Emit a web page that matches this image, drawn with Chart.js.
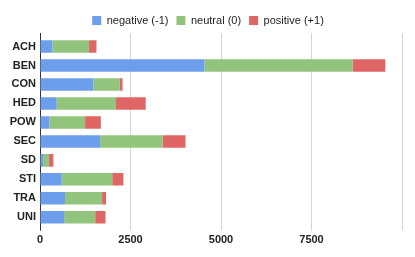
<!DOCTYPE html>
<html><head><meta charset="utf-8">
<script src="https://cdn.jsdelivr.net/npm/chart.js@4"></script>
<style>html,body{margin:0;padding:0;background:#fff}#w{width:415px;height:257px}</style>
</head><body><div id="w"><canvas id="c"></canvas></div>
<script>
const categories = ["ACH","BEN","CON","HED","POW","SEC","SD","STI","TRA","UNI"];
const negative = [340, 4540, 1475, 460, 260, 1660, 85, 600, 690, 665];
const neutral = [1015, 4095, 730, 1640, 985, 1725, 165, 1395, 1025, 860];
const positive = [205, 905, 75, 820, 435, 635, 120, 310, 110, 285];
const seriesNames = ["negative (-1)", "neutral (0)", "positive (+1)"];
const xTicks = [0, 2500, 5000, 7500, 10000];

const legendFix = {
  id: 'legendFix',
  beforeInit(chart) {
    const orig = chart.legend.fit;
    chart.legend.fit = function () { orig.call(this); this.height = 33; };
  },
  afterLayout(chart) {
    const L = chart.legend;
    L.left += 7; L.right += 7; L.top += 7;
  }
};
const F = "Arial, 'Liberation Sans', sans-serif";
new Chart(document.getElementById('c'), {
  type: 'bar',
  data: {
    labels: categories,
    datasets: [
      {label: seriesNames[0], data: negative, backgroundColor: '#6d9eeb', borderWidth: 0},
      {label: seriesNames[1], data: neutral, backgroundColor: '#93c47d', borderWidth: 0},
      {label: seriesNames[2], data: positive, backgroundColor: '#e06666', borderWidth: 0}
    ]
  },
  options: {
    indexAxis: 'y',
    responsive: true, maintainAspectRatio: false, animation: false,
    layout: {padding: {left: 0, right: 13, top: 0, bottom: 7}},
    datasets: {bar: {categoryPercentage: 1, barPercentage: 0.66}},
    plugins: {
      tooltip: {enabled: false},
      legend: {
        position: 'top', align: 'center',
        labels: {boxWidth: 9, boxHeight: 9, padding: 8, color: '#222', font: {family: F, size: 11}}
      }
    },
    scales: {
      x: {
        type: 'linear', stacked: true, min: 0, max: 10000,
        afterBuildTicks(s) { s.ticks = xTicks.map(v => ({value: v})); },
        ticks: {color: '#222', padding: 3, font: {family: F, size: 11, weight: 'bold'},
          callback: v => (v === 10000 ? '' : String(v))},
        grid: {color: c => (c.tick && c.tick.value === 0 ? '#333' : '#d6d6d6'), tickLength: 4, lineWidth: 1},
        border: {display: false}
      },
      x2: {
        type: 'linear', position: 'top', min: 0, max: 10000,
        afterBuildTicks(s) { s.ticks = xTicks.map(v => ({value: v})); },
        ticks: {display: false},
        grid: {drawOnChartArea: false, tickLength: 4, color: c => (c.tick && c.tick.value === 0 ? '#333' : '#d6d6d6')},
        border: {display: false}
      },
      y: {
        stacked: true,
        afterFit(s) { s.width = 40; },
        ticks: {color: '#222', padding: 4, font: {family: F, size: 11, weight: 'bold'}},
        grid: {display: false, drawTicks: false},
        border: {display: false}
      }
    }
  },
  plugins: [legendFix]
});
</script></body></html>
